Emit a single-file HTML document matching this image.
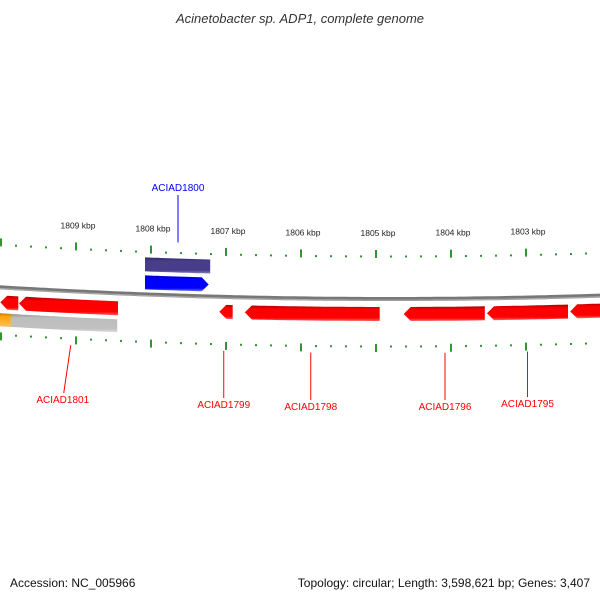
<!DOCTYPE html>
<html><head><meta charset="utf-8"><style>
html,body{margin:0;padding:0;background:#fff;}
svg{display:block;font-family:"Liberation Sans","DejaVu Sans",sans-serif;}
</style></head><body>
<svg id="chart" width="600" height="600" viewBox="0 0 600 600">
<defs>
<linearGradient id="gRed" x1="0" y1="0" x2="0" y2="1"><stop offset="0" stop-color="#b00000"/><stop offset="0.25" stop-color="#ff0000"/><stop offset="0.8" stop-color="#ff0000"/><stop offset="1" stop-color="#ff6060"/></linearGradient>
<linearGradient id="gBlue" x1="0" y1="0" x2="0" y2="1"><stop offset="0" stop-color="#0000c0"/><stop offset="0.25" stop-color="#0000ff"/><stop offset="0.8" stop-color="#0000ff"/><stop offset="1" stop-color="#7070ff"/></linearGradient>
<linearGradient id="gSlate" x1="0" y1="0" x2="0" y2="1"><stop offset="0" stop-color="#332a70"/><stop offset="0.25" stop-color="#483d8b"/><stop offset="0.8" stop-color="#483d8b"/><stop offset="1" stop-color="#8a80c0"/></linearGradient>
<linearGradient id="gGray" x1="0" y1="0" x2="0" y2="1"><stop offset="0" stop-color="#888"/><stop offset="0.25" stop-color="#bdbdbd"/><stop offset="0.8" stop-color="#c0c0c0"/><stop offset="1" stop-color="#ddd"/></linearGradient>
<linearGradient id="gOrange" x1="0" y1="0" x2="0" y2="1"><stop offset="0" stop-color="#c07000"/><stop offset="0.25" stop-color="#ffa500"/><stop offset="1" stop-color="#ffc060"/></linearGradient>
</defs>
<text x="300" y="23" text-anchor="middle" font-size="13" font-style="italic" fill="#333">Acinetobacter sp. ADP1, complete genome</text>
<text x="10" y="587" font-size="12" fill="#111">Accession: NC_005966</text>
<text x="590" y="587" text-anchor="end" font-size="12" fill="#111">Topology: circular; Length: 3,598,621 bp; Genes: 3,407</text>
<g id="marks"></g>
</svg>
<script>
// data (kbp)
const majorTicks = [1810, 1809, 1808, 1807, 1806, 1805, 1804, 1803, 1802];
const tickLabels = ["1810 kbp","1809 kbp","1808 kbp","1807 kbp","1806 kbp","1805 kbp","1804 kbp","1803 kbp","1802 kbp"];
const reverseGeneStarts = [1810.01, 1809.76, 1807.09, 1806.75, 1804.63, 1803.52, 1802.41];
const reverseGeneEnds   = [1809.77, 1808.44, 1806.91, 1804.95, 1803.55, 1802.44, 1801.80];
const forwardGeneStart = 1808.08, forwardGeneEnd = 1807.23;
const slateStart = 1808.08, slateEnd = 1807.21;
const grayStart = 1810.1, grayEnd = 1808.45;
const orangeStart = 1810.1, orangeEnd = 1809.87;
const labelNames = ["ACIAD1800","ACIAD1801","ACIAD1799","ACIAD1798","ACIAD1796","ACIAD1795"];
const labelPos   = [1807.64, 1809.07, 1807.03, 1805.87, 1804.08, 1802.98];

// axes
const X0 = 151, K0 = 1808, PX = 75, CX = 390, R = 6500, BASE = 299;
const xOf = k => X0 + (K0 - k) * PX;
const yOf = (x, off) => BASE + off - (x - CX) * (x - CX) / (2 * R);
const NS = "http://www.w3.org/2000/svg";
const g = document.getElementById("marks");
function el(tag, attrs, parent){ const e=document.createElementNS(NS,tag); for(const k in attrs) e.setAttribute(k,attrs[k]); (parent||g).appendChild(e); return e; }

function band(x1, x2, top, bot, dir, fill, name){
  // dir: 0 none, -1 left arrow, 1 right arrow
  const head = 7;
  let a = Math.min(x1,x2), b = Math.max(x1,x2);
  let pts = [];
  const sa = dir===-1 ? Math.min(a+head,b) : a;
  const sb = dir===1 ? Math.max(b-head,a) : b;
  const mid = (top+bot)/2;
  for(let x=sa; x<=sb; x+=4) pts.push([x, yOf(x,top)]);
  pts.push([sb, yOf(sb,top)]);
  if(dir===1) pts.push([b, yOf(b,mid)]);
  for(let x=sb; x>=sa; x-=4) pts.push([x, yOf(x,bot)]);
  pts.push([sa, yOf(sa,bot)]);
  if(dir===-1) pts.push([a, yOf(a,mid)]);
  const p = el("polygon",{points:pts.map(p=>p[0].toFixed(1)+","+p[1].toFixed(1)).join(" "),fill:fill});
  
  
  return p;
}

// backbone
(function(){
  let d="";
  for(let x=-5;x<=605;x+=5){ d += (x===-5?"M":"L")+x+","+yOf(x,0).toFixed(1); }
  const p1 = el("path",{d:d,stroke:"#777",fill:"none","stroke-width":"4"});
  
  
  let d2=""; for(let x=-5;x<=605;x+=5){ d2 += (x===-5?"M":"L")+x+","+yOf(x,1.2).toFixed(1); }
  const p2 = el("path",{d:d2,stroke:"#aaa",fill:"none","stroke-width":"1.2"});
  
  
})();

// ticks
for(let k=majorTicks[0]; k>=majorTicks[majorTicks.length-1]-0.001; k-=0.2){
  const kk = Math.round(k*5)/5;
  const x = xOf(kk);
  if(x<-2||x>602) continue;
  const major = Math.abs(kk-Math.round(kk))<0.01;
  const t1 = el("line",{x1:x,x2:x,y1:yOf(x,major?-49:-43.5),y2:yOf(x,major?-41:-41.5),stroke:"#1a8a1a","stroke-width":"1.8"});
  
  
  const t2 = el("line",{x1:x,x2:x,y1:yOf(x,major?45:46.5),y2:yOf(x,major?53:48.5),stroke:"#1a8a1a","stroke-width":"1.8"});
  
  
}
majorTicks.forEach((k,i)=>{
  const x = xOf(k);
  if(x<20||x>580) return;
  const t = el("text",{x:x+2,y:yOf(x,-63),"text-anchor":"middle","font-size":"8.5",fill:"#222"});
  t.textContent = tickLabels[i];
  
  
});

// features
band(xOf(grayStart), xOf(grayEnd), 26, 39, 0, "url(#gGray)", "gray-feature");
band(xOf(orangeStart), xOf(orangeEnd), 26, 39, 0, "url(#gOrange)", "orange-feature");
band(xOf(slateStart), xOf(slateEnd), -37, -23, 0, "url(#gSlate)", "slate-feature");
band(xOf(forwardGeneStart), xOf(forwardGeneEnd), -19, -5, 1, "url(#gBlue)", "gene-aciad1800");
reverseGeneStarts.forEach((s,i)=>{
  band(xOf(s), xOf(reverseGeneEnds[i]), 8, 22, -1, "url(#gRed)", "reverse-gene");
});

// labels
labelNames.forEach((n,i)=>{
  const x = xOf(labelPos[i]);
  const blue = i===0;
  const col = blue ? "#0000ff" : "#ff0000";
  let ly1, ly2, ty;
  if(blue){ ly1 = 195; ly2 = yOf(x,-53); ty = 191; }
  else { ly1 = yOf(x,54); ly2 = (i===1?393:[0,0,398,400,400,397][i]); ty = ly2+10; }
  const ln = el("line",{x1:x,x2:blue?x:x-(i===1?7:0),y1:ly1,y2:ly2,stroke:col,"stroke-width":"1"});
  
  
  const t = el("text",{x:x-(i===1?8:0),y:ty,"text-anchor":"middle","font-size":"10",fill:col});
  t.textContent = n;
  
  
});
</script>
</body></html>
